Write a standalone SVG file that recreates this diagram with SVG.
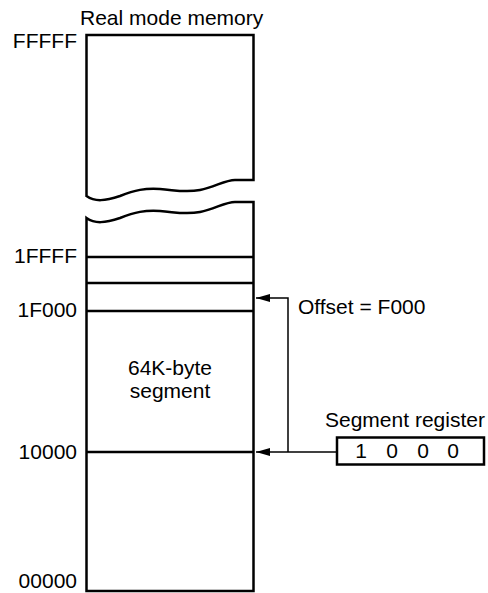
<svg xmlns="http://www.w3.org/2000/svg" width="488" height="593" viewBox="0 0 488 593">
<style>
text{font-family:"Liberation Sans",Arial,sans-serif;font-size:21px;fill:#000}
.box{fill:#fff;stroke:#000;stroke-width:2.5}
.div{stroke:#000;stroke-width:2.5;fill:none}
.conn{stroke:#000;stroke-width:1.5;fill:none}
.lbl{text-anchor:end}
</style>
<defs>
<marker id="ah" markerUnits="userSpaceOnUse" markerWidth="16" markerHeight="10" refX="14" refY="4" orient="auto">
<polygon points="0,0 14,4 0,8" fill="#000"/>
</marker>
</defs>
<g id="memory">
<text x="80" y="25">Real mode memory</text>
<path class="box" d="M86.5,35 H253.5 V180 L235,180 C225,180 215,187 200,190 C185,193 175,190 160,189 C145,188 135,190 120,196 C105,201 95,202 86.5,196 Z"/>
<path class="box" d="M86.5,218 C95,224 105,223 120,218 C135,212 145,210 160,211 C175,212 185,215 200,212 C215,209 225,202 235,202 L253.5,202 V591 H86.5 Z"/>
<line class="div" x1="86.5" y1="257" x2="253.5" y2="257"/>
<line class="div" x1="86.5" y1="283" x2="253.5" y2="283"/>
<line class="div" x1="86.5" y1="311" x2="253.5" y2="311"/>
<line class="div" x1="86.5" y1="452" x2="253.5" y2="452"/>
<text x="170" y="375" text-anchor="middle">64K-byte</text>
<text x="170" y="398" text-anchor="middle">segment</text>
</g>
<g id="addresses">
<text class="lbl" x="77" y="48">FFFFF</text>
<text class="lbl" x="77" y="263">1FFFF</text>
<text class="lbl" x="77" y="317">1F000</text>
<text class="lbl" x="77" y="459">10000</text>
<text class="lbl" x="77" y="588">00000</text>
</g>
<g id="register">
<text x="325" y="427">Segment register</text>
<rect class="box" x="337" y="437.5" width="147" height="27"/>
<text x="361" y="458" text-anchor="middle">1</text>
<text x="392" y="458" text-anchor="middle">0</text>
<text x="423" y="458" text-anchor="middle">0</text>
<text x="453" y="458" text-anchor="middle">0</text>
</g>
<g id="offset">
<text x="298" y="314">Offset = F000</text>
</g>
<g id="connectors">
<path class="conn" d="M288,452 V298 H256" marker-end="url(#ah)"/>
<path class="conn" d="M337,452 H256" marker-end="url(#ah)"/>
</g>
</svg>
